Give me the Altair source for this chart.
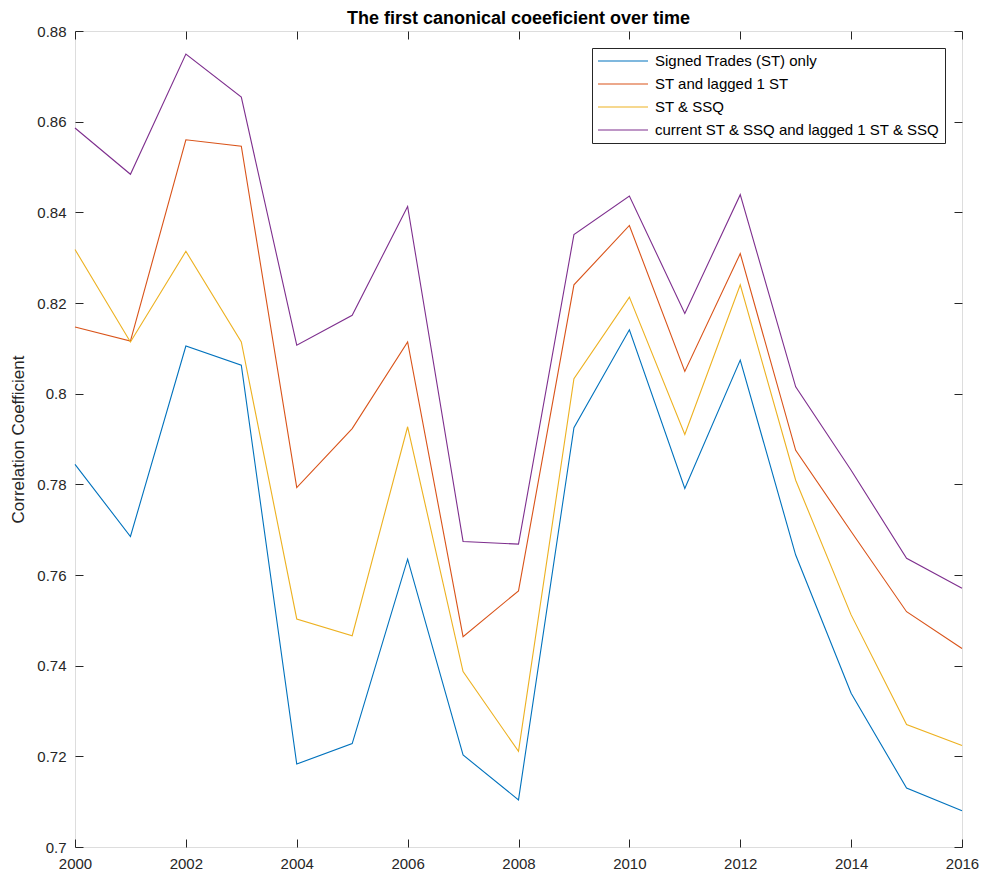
import altair as alt
import pandas as pd

years = list(range(2000, 2017))
series_names = [
    "Signed Trades (ST) only",
    "ST and lagged 1 ST",
    "ST & SSQ",
    "current ST & SSQ and lagged 1 ST & SSQ",
]
series_colors = ["#0072BD", "#D95319", "#EDB120", "#7E2F8E"]

st_only = [0.7844, 0.7685, 0.8105, 0.8063, 0.7183, 0.7228, 0.7635, 0.7203, 0.7104,
           0.7925, 0.8141, 0.7791, 0.8074, 0.7644, 0.7339, 0.7130, 0.7080]
st_lag1 = [0.8147, 0.8116, 0.8560, 0.8546, 0.7793, 0.7923, 0.8114, 0.7464, 0.7565,
           0.8240, 0.8371, 0.8049, 0.8309, 0.7875, 0.7696, 0.7519, 0.7438]
st_ssq = [0.8318, 0.8114, 0.8314, 0.8114, 0.7503, 0.7466, 0.7927, 0.7387, 0.7211,
          0.8033, 0.8213, 0.7910, 0.8240, 0.7809, 0.7512, 0.7270, 0.7224]
st_ssq_lag1 = [0.8586, 0.8484, 0.8749, 0.8654, 0.8107, 0.8173, 0.8413, 0.7674, 0.7668,
               0.8351, 0.8436, 0.8177, 0.8439, 0.8015, 0.7831, 0.7637, 0.7571]

x_ticks = list(range(2000, 2017, 2))
y_ticks = [0.70, 0.72, 0.74, 0.76, 0.78, 0.80, 0.82, 0.84, 0.86, 0.88]

rows = []
for name, vals in zip(series_names, [st_only, st_lag1, st_ssq, st_ssq_lag1]):
    for yr, v in zip(years, vals):
        rows.append({"year": yr, "value": v, "series": name, "order": series_names.index(name)})
df = pd.DataFrame(rows)

W, H = 887, 816
FONT = "Liberation Sans"
AX = "#262626"

xscale = alt.Scale(domain=[2000, 2016], nice=False, zero=False)
yscale = alt.Scale(domain=[0.70, 0.88], nice=False, zero=False)

lines = alt.Chart(df).mark_line(strokeWidth=1.1).encode(
    x=alt.X("year:Q", scale=xscale,
            axis=alt.Axis(orient="bottom", values=x_ticks, format="d", title=None,
                          ticks=False, domain=False, grid=False, labelFontSize=15,
                          labelFlush=False, labelOverlap=False,
                          labelPadding=9, labelColor=AX, labelFont=FONT)),
    y=alt.Y("value:Q", scale=yscale,
            axis=alt.Axis(orient="left", values=y_ticks, format=".2~f",
                          title="Correlation Coefficient", titleFontSize=17,
                          titleFontWeight="normal", titleColor=AX, titleFont=FONT,
                          titlePadding=9, labelFlush=False, labelOverlap=False,
                          ticks=False, domain=False, grid=False, labelFontSize=15,
                          labelPadding=9, labelColor=AX, labelFont=FONT)),
    color=alt.Color("series:N",
                    scale=alt.Scale(domain=series_names, range=series_colors),
                    sort=series_names,
                    legend=alt.Legend(title=None, orient="none", legendX=517, legendY=17,
                                      symbolType="stroke", symbolSize=2500,
                                      symbolStrokeWidth=1.2, labelFontSize=15,
                                      labelFont=FONT, labelColor="#000000",
                                      labelLimit=500, labelOffset=6,
                                      clipHeight=16,
                                      strokeColor=AX, fillColor="white",
                                      padding=5, rowPadding=7)),
    order="order:Q",
    detail="series:N",
)

def tick_layer(xorient, yorient):
    return alt.Chart(df).mark_line(opacity=0).encode(
        x=alt.X("year:Q", scale=xscale,
                axis=alt.Axis(orient=xorient, offset=-H, values=x_ticks, labels=False,
                              title=None, domain=False, grid=False, ticks=True,
                              tickSize=8, tickColor=AX, tickWidth=1)),
        y=alt.Y("value:Q", scale=yscale,
                axis=alt.Axis(orient=yorient, offset=-W, values=y_ticks, labels=False,
                              title=None, domain=False, grid=False, ticks=True,
                              tickSize=8, tickColor=AX, tickWidth=1)),
        detail="series:N",
    )

ticks_a = tick_layer("top", "right")
ticks_b = tick_layer("bottom", "left")

chart = alt.layer(lines, ticks_a, ticks_b).resolve_axis(
    x="independent", y="independent"
).properties(
    width=W, height=H,
    title=alt.Title("The first canonical coeeficient over time", fontSize=18,
                    fontWeight="bold", font=FONT, color="#000000", offset=-4,
                    anchor="middle"),
    padding={"left": 67, "top": 23, "right": 18, "bottom": 25},
    autosize=alt.AutoSizeParams(type="none"),
).configure_view(
    stroke=AX, strokeWidth=1
).configure(background="white")

chart.save("out.html", embed_options={"renderer": "svg", "actions": False})
